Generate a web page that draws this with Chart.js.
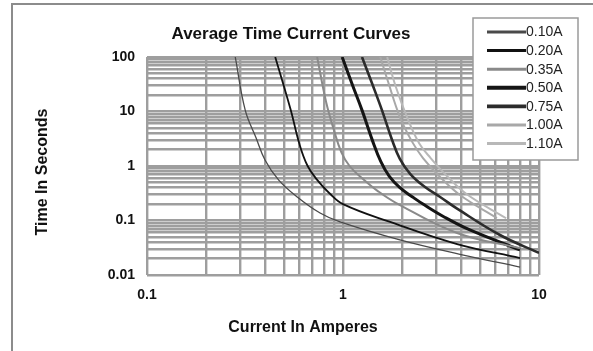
<!DOCTYPE html>
<html>
<head>
<meta charset="utf-8">
<script src="https://cdn.jsdelivr.net/npm/chart.js@4"></script>
<style>
  html, body { margin: 0; padding: 0; background: #fff; }
</style>
</head>
<body>
<canvas id="tccChart" width="593" height="351"></canvas>
<script>
// fuse ratings (legend order)
const ratings = ["0.10A", "0.20A", "0.35A", "0.50A", "0.75A", "1.00A", "1.10A"];

// current (A) / time (s)
const amps010 = [0.282, 0.317, 0.36, 0.40, 0.47, 0.584, 0.764, 0.966, 1.95, 3.95, 8.0];
const secs010 = [100, 10.6, 3.3, 1.29, 0.55, 0.27, 0.137, 0.094, 0.044, 0.024, 0.014];
const amps020 = [0.451, 0.54, 0.60, 0.66, 0.74, 0.85, 1.0, 1.74, 3.82, 8.0];
const secs020 = [100, 11, 2.5, 1.0, 0.55, 0.32, 0.2, 0.094, 0.037, 0.0205];
const amps035 = [0.738, 0.82, 0.90, 0.98, 1.08, 1.25, 1.5, 1.87, 3.82, 8.0];
const secs035 = [100, 15, 4.5, 1.8, 1.0, 0.6, 0.35, 0.209, 0.059, 0.031];
const amps050 = [0.99, 1.12, 1.25, 1.42, 1.56, 1.72, 1.95, 2.3, 2.56, 3.3, 4.44, 8.0];
const secs050 = [100, 30, 10.6, 2.8, 1.2, 0.65, 0.40, 0.26, 0.20, 0.115, 0.067, 0.0288];
const amps075 = [1.25, 1.42, 1.58, 1.78, 1.95, 2.2, 2.6, 3.13, 3.82, 6.32, 10];
const secs075 = [100, 30, 10.6, 3.0, 1.35, 0.72, 0.42, 0.27, 0.165, 0.0542, 0.0254];
const amps100 = [1.55, 1.70, 1.95, 2.25, 2.56, 3.1, 3.95, 6.1];
const secs100 = [100, 34.8, 8, 2.8, 1.40, 0.65, 0.294, 0.111];
const amps110 = [1.68, 1.85, 2.15, 2.45, 2.8, 3.4, 4.3, 6.8];
const secs110 = [100, 30, 7, 2.6, 1.4, 0.65, 0.3, 0.11];

// axis ticks
const xTickLabels = ["0.1", "1", "10"];
const yTickLabels = ["0.01", "0.1", "1", "10", "100"];
const xGridValues = [0.1, 0.2, 0.3, 0.4, 0.5, 0.6, 0.7, 0.8, 0.9, 1, 2, 3, 4, 5, 6, 7, 8, 9, 10];
const yGridValues = [0.01, 0.02, 0.03, 0.04, 0.05, 0.06, 0.07, 0.08, 0.09,
                     0.1, 0.2, 0.3, 0.4, 0.5, 0.6, 0.7, 0.8, 0.9,
                     1, 2, 3, 4, 5, 6, 7, 8, 9,
                     10, 20, 30, 40, 50, 60, 70, 80, 90, 100];

const allAmps = [amps010, amps020, amps035, amps050, amps075, amps100, amps110];
const allSecs = [secs010, secs020, secs035, secs050, secs075, secs100, secs110];
const lineColors = ["#4a4a4a", "#111111", "#8a8a8a", "#151515", "#2c2c2c", "#a8a8a8", "#b8b8b8"];
const lineWidths = [1.3, 1.8, 2, 3, 2.6, 2, 2];

function punkty(i) {
    return allAmps[i].map((a, k) => ({ x: a, y: allSecs[i][k] }));
}

function jeDekada(v) {
    let l = Math.log10(v);
    return Math.abs(l - Math.round(l)) < 1e-6;
}

const FONT = "'Liberation Sans', Arial, sans-serif";

const decor = {
    id: "decor",
    beforeDraw(chart) {
        const c = chart.ctx;
        c.save();
        c.fillStyle = "#fff";
        c.fillRect(0, 0, chart.width, chart.height);
        c.strokeStyle = "#8c8c8c";
        c.lineWidth = 2;
        c.beginPath();
        c.moveTo(12, 351);
        c.lineTo(12, 4);
        c.lineTo(593, 4);
        c.stroke();
        c.restore();
    },
    afterDraw(chart) {
        const c = chart.ctx;
        c.save();
        c.fillStyle = "#111";
        c.textAlign = "center";
        c.textBaseline = "middle";
        c.font = "bold 17px " + FONT;
        c.fillText("Average Time Current Curves", 291, 34);
        c.font = "bold 16px " + FONT;
        c.fillText("Current In Amperes", 303, 328);
        c.translate(43, 172);
        c.rotate(-Math.PI / 2);
        c.fillText("Time In Seconds", 0, 0);
        c.restore();

        // legend box
        c.save();
        c.fillStyle = "#fff";
        c.fillRect(473, 18, 105, 142);
        c.strokeStyle = "#9a9a9a";
        c.lineWidth = 1.5;
        c.strokeRect(473, 18, 105, 142);
        c.font = "14px " + FONT;
        c.textAlign = "left";
        c.textBaseline = "middle";
        chart.data.datasets.forEach((ds, i) => {
            let y = 32 + i * 18.6;
            c.strokeStyle = ds.borderColor;
            c.lineWidth = Math.max(3, ds.borderWidth + 1);
            c.beginPath();
            c.moveTo(487, y);
            c.lineTo(526, y);
            c.stroke();
            c.fillStyle = "#222";
            c.fillText(ds.label, 526, y + 0.5);
        });
        c.restore();
    }
};

new Chart(document.getElementById("tccChart"), {
    type: "line",
    data: {
        datasets: ratings.map((r, i) => ({
            label: r,
            data: punkty(i),
            borderColor: lineColors[i],
            borderWidth: lineWidths[i],
            pointRadius: 0,
            fill: false,
            tension: 0.4
        }))
    },
    options: {
        responsive: false,
        animation: false,
        layout: { padding: { top: 57, right: 54, bottom: 0, left: 0 } },
        plugins: {
            legend: { display: false },
            title: { display: false },
            tooltip: { enabled: false }
        },
        scales: {
            x: {
                type: "logarithmic",
                min: 0.1,
                max: 10,
                afterFit: s => { s.height = 76; },
                afterBuildTicks: s => { s.ticks = xGridValues.map(v => ({ value: v })); },
                grid: { color: "#9e9e9e", lineWidth: 2.4, drawTicks: false },
                border: { display: false },
                ticks: {
                    autoSkip: false,
                    maxRotation: 0,
                    padding: 12,
                    color: "#111",
                    font: { family: FONT, size: 14, weight: "bold" },
                    callback: v => jeDekada(v) ? xTickLabels[Math.round(Math.log10(v)) + 1] : ""
                }
            },
            y: {
                type: "logarithmic",
                min: 0.01,
                max: 100,
                afterFit: s => { s.width = 147; },
                afterBuildTicks: s => { s.ticks = yGridValues.map(v => ({ value: v })); },
                grid: { color: "#9e9e9e", lineWidth: 2.4, drawTicks: false },
                border: { display: false },
                ticks: {
                    autoSkip: false,
                    padding: 12,
                    color: "#111",
                    font: { family: FONT, size: 14, weight: "bold" },
                    callback: v => jeDekada(v) ? yTickLabels[Math.round(Math.log10(v)) + 2] : ""
                }
            }
        }
    },
    plugins: [decor]
});
</script>
</body>
</html>
